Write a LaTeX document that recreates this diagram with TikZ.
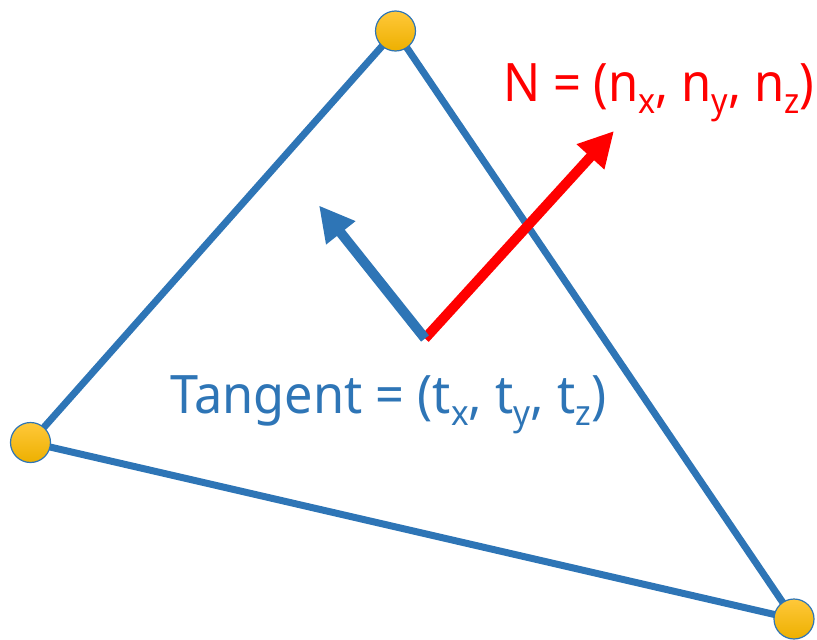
\documentclass[tikz,border=0pt]{standalone}
\usepackage{fontspec}
\usepackage{graphicx}
\setmainfont{Noto Sans}
\usetikzlibrary{arrows.meta}
\definecolor{edgeblue}{HTML}{2E75B6}
\definecolor{normred}{HTML}{FF0000}
\definecolor{goldtop}{HTML}{FFC83A}
\definecolor{goldbot}{HTML}{EDB000}
\newcommand\mysub[1]{\raisebox{-12pt}{\fontsize{35}{35}\selectfont #1}}
\tikzset{
  vertex/.style={circle, draw=edgeblue, line width=1.2pt, minimum size=40pt, inner sep=0pt,
    top color=goldtop, bottom color=goldbot},
  edge/.style={draw=edgeblue, line width=7pt},
  vecarrow/.style={line width=10pt, -{Triangle[length=35pt,width=35pt]}},
  lbl/.style={anchor=base west, inner sep=0pt, font=\fontsize{53}{53}\selectfont}
}
\begin{document}
\begin{tikzpicture}[x=1pt,y=-1pt]
\useasboundingbox (0,0) rectangle (817,640);
\coordinate (v1) at (395.5,31);
\coordinate (v2) at (30.5,442.5);
\coordinate (v3) at (794,619);
\draw[edge] (v1) -- (v2) -- (v3) -- cycle;
\coordinate (o) at (425,338.5);
\coordinate (nt) at (614,131);
\coordinate (tt) at (319,205.5);
\draw[vecarrow, normred] (o) -- (nt);
\draw[vecarrow, edgeblue] (o) -- (tt);
\node[vertex] (c1) at (v1) {};
\node[vertex] (c2) at (v2) {};
\node[vertex] (c3) at (v3) {};
\node[lbl, text=normred] (nlabel) at (503,101.7) {\resizebox{311pt}{\height}{N = (n\mysub{x}, n\mysub{y}, n\mysub{z})}};
\node[lbl, text=edgeblue] (tlabel) at (170,413.3) {\resizebox{436pt}{\height}{Tangent = (t\mysub{x}, t\mysub{y}, t\mysub{z})}};
\end{tikzpicture}
\end{document}
